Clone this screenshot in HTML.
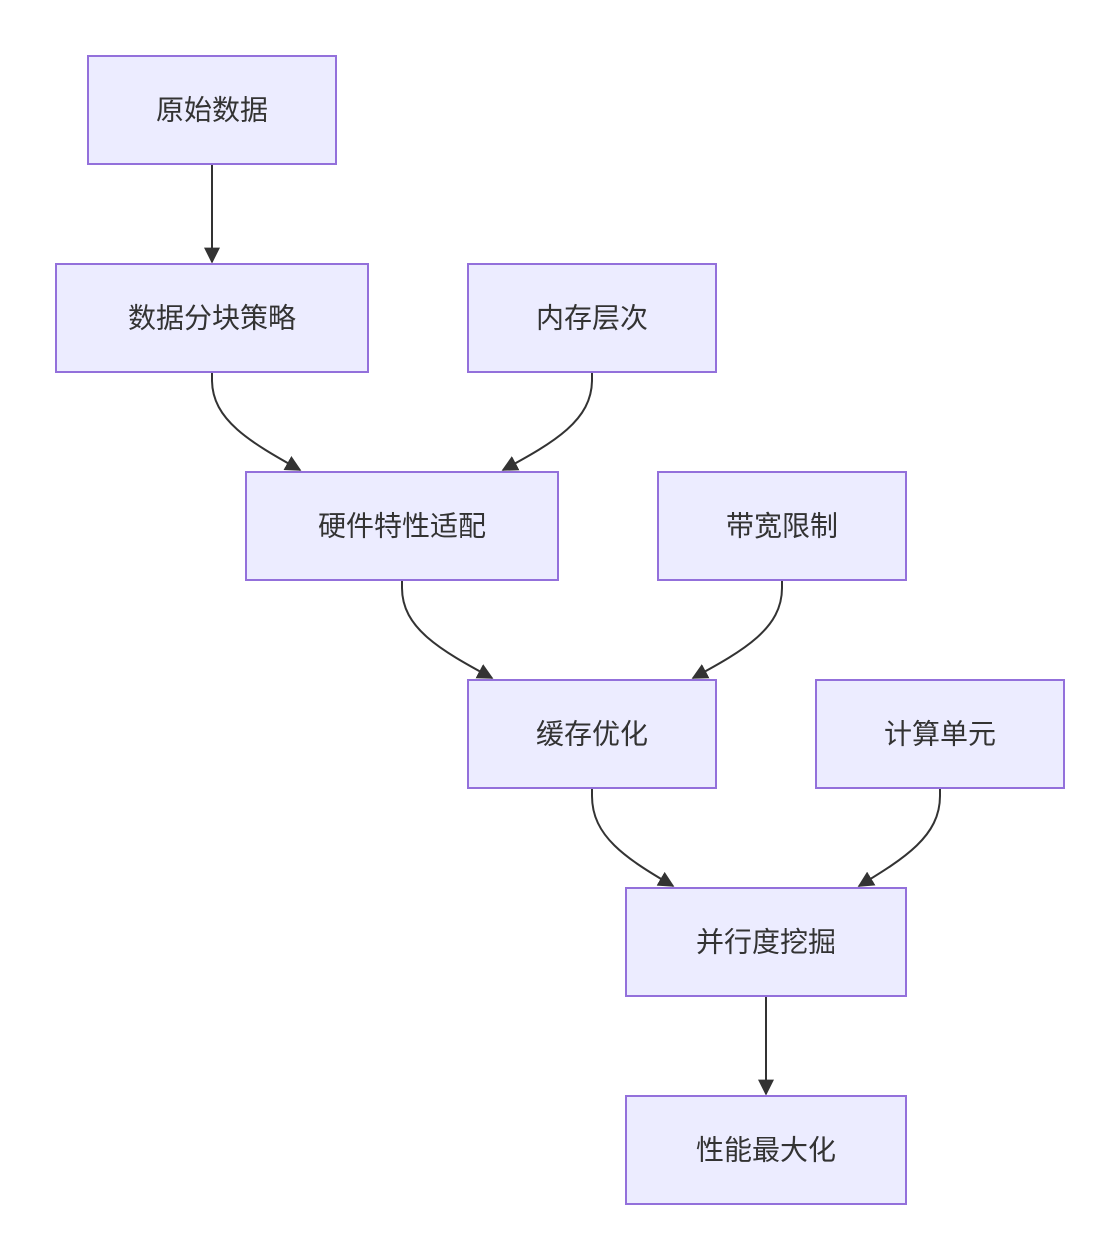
<!DOCTYPE html>
<html><head><meta charset="utf-8"><style>
html,body{margin:0;padding:0;background:#fff;}
svg{display:block;}
text{font-family:"Liberation Sans","Noto Sans CJK SC",sans-serif;font-size:28px;fill:#333;text-anchor:middle;dominant-baseline:central;}
rect{fill:#ECECFF;stroke:#9370DB;stroke-width:2;}
path{fill:none;stroke:#333;stroke-width:2;}
</style></head><body>
<svg width="1119" height="1259" viewBox="0 0 1119 1259" xmlns="http://www.w3.org/2000/svg">
<defs>
<marker id="a" viewBox="0 0 10 10" refX="9" refY="5" markerWidth="8" markerHeight="8" markerUnits="userSpaceOnUse" orient="auto">
<path d="M0,0 L10,5 L0,10 z" style="fill:#333;stroke:none"/>
</marker>
<marker id="b" viewBox="0 0 10 10" refX="9" refY="5" markerWidth="16" markerHeight="16" markerUnits="userSpaceOnUse" orient="auto">
<path d="M0,0 L10,5 L0,10 z" style="fill:#333;stroke:none"/>
</marker>
</defs>
<path d="M212,164 L212,262" marker-end="url(#b)"/>
<path d="M212,372 L212,380 C212,420 250,442 300,470" marker-end="url(#b)"/>
<path d="M592,372 L592,380 C592,420 555,442 503,470" marker-end="url(#b)"/>
<path d="M402,580 L402,588 C402,628 440,650 492,678" marker-end="url(#b)"/>
<path d="M782,580 L782,588 C782,628 745,650 693,678" marker-end="url(#b)"/>
<path d="M592,788 L592,796 C592,836 625,858 673,886" marker-end="url(#b)"/>
<path d="M940,788 L940,796 C940,836 905,858 859,886" marker-end="url(#b)"/>
<path d="M766,996 L766,1094" marker-end="url(#b)"/>
<rect x="88" y="56" width="248" height="108"/><text x="212" y="110">原始数据</text>
<rect x="56" y="264" width="312" height="108"/><text x="212" y="318">数据分块策略</text>
<rect x="468" y="264" width="248" height="108"/><text x="592" y="318">内存层次</text>
<rect x="246" y="472" width="312" height="108"/><text x="402" y="526">硬件特性适配</text>
<rect x="658" y="472" width="248" height="108"/><text x="782" y="526">带宽限制</text>
<rect x="468" y="680" width="248" height="108"/><text x="592" y="734">缓存优化</text>
<rect x="816" y="680" width="248" height="108"/><text x="940" y="734">计算单元</text>
<rect x="626" y="888" width="280" height="108"/><text x="766" y="942">并行度挖掘</text>
<rect x="626" y="1096" width="280" height="108"/><text x="766" y="1150">性能最大化</text>
</svg>
</body></html>
